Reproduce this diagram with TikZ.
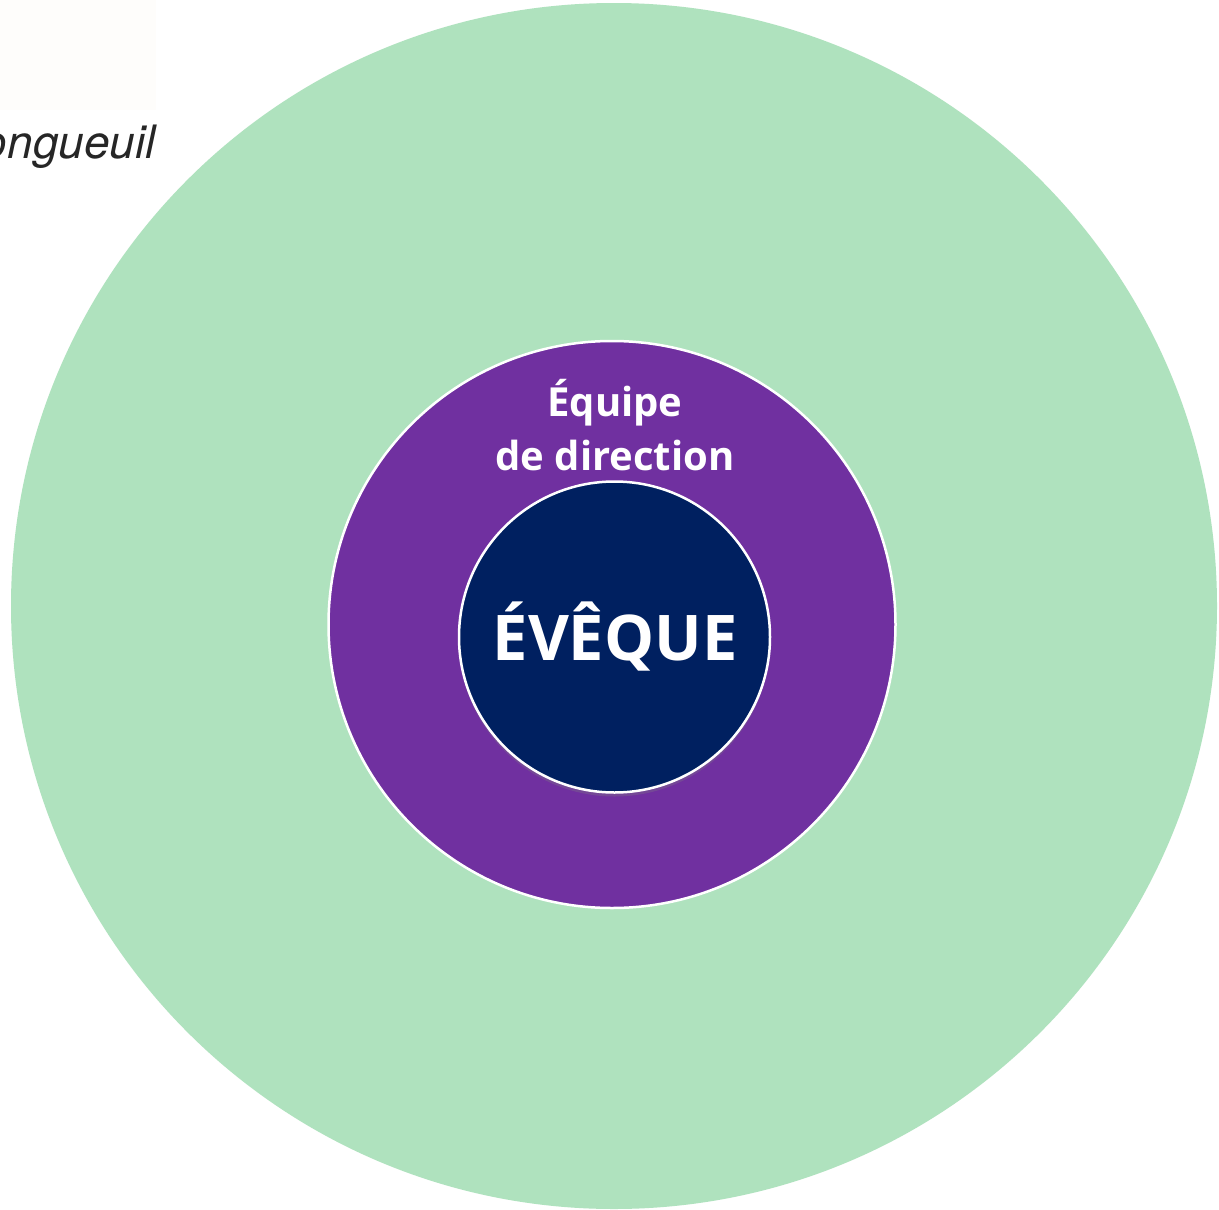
\documentclass[tikz,border=0pt]{standalone}
\usepackage{fontspec}
\setmainfont{Open Sans}
\newfontfamily\helvfont{TeX Gyre Heros}
\usepackage{tikz}
\usetikzlibrary{positioning, shadows}

\definecolor{ringgreen}{RGB}{175,226,190}
\definecolor{teampurple}{RGB}{112,48,160}
\definecolor{bishopblue}{RGB}{0,32,96}
\definecolor{paperwhite}{RGB}{254,253,251}

\begin{document}
\begin{tikzpicture}[x=1pt, y=-1pt, node distance=0pt,
        ring/.style={circle, inner sep=0pt, draw=white, line width=2.5pt},
        label/.style={text=white, font=\bfseries, inner sep=0pt}]
        \useasboundingbox (0,0) rectangle (1219,1210);
        \clip (0,0) rectangle (1219,1210);
        \fill[white] (0,0) rectangle (1219,1210);
        \fill[paperwhite] (0,0) rectangle (156,110);

        % the three circles
        \node (outer) [ring, draw=none, fill=ringgreen, minimum size=1206pt] at (614,606) {};
        \node (team) [ring, fill=teampurple, minimum size=567pt] at (612,624.5) {};
        \node (bishop) [ring, fill=bishopblue, minimum size=311pt,
            drop shadow={shadow xshift=0pt, shadow yshift=-4pt, opacity=0.3}] at (614.5,637) {};

        % partial city name at the top left
        \node (city) [anchor=base east, inner sep=0pt, font=\helvfont\itshape\fontsize{46}{54}\selectfont, text=black!85] at (156,158) {ongueuil};

        % texts
        \node (teamA) [label, anchor=base, font=\bfseries\fontsize{40}{48}\selectfont] at (615,416) {Équipe};
        \node (teamB) [label, anchor=base, font=\bfseries\fontsize{40}{48}\selectfont] at (615,470) {de direction};
        \node (bishopname) [label, anchor=base, font=\bfseries\fontsize{63}{72}\selectfont] at (615,660) {ÉVÊQUE};
\end{tikzpicture}
\end{document}
